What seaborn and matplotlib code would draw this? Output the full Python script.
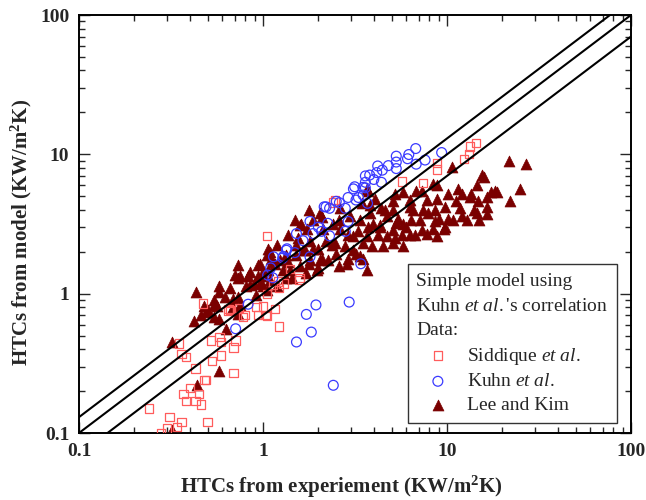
import numpy as np
import pandas as pd
import matplotlib
matplotlib.use("Agg")
import matplotlib.pyplot as plt
import seaborn as sns

# ---------------- data ----------------
sid_x = [0.47, 0.52, 0.58, 0.59, 0.65, 0.71, 0.69, 0.35, 0.36, 0.38, 0.53, 0.59, 0.43, 0.69,
         0.48, 0.49, 0.40, 0.37, 0.38, 0.43, 0.45, 0.46, 0.24, 0.31, 0.36, 0.34, 0.30, 0.28,
         0.50, 0.94, 1.03, 0.80, 0.92, 1.22, 0.65, 0.78, 1.05, 1.13, 1.22, 1.58, 0.66, 0.74,
         1.00, 1.16, 1.21, 1.05, 1.05, 1.40, 1.58, 1.29, 2.46, 2.40, 5.7, 7.4, 8.8, 8.8,
         12.4, 13.2, 13.3, 14.4]
sid_y = [0.85, 0.46, 0.49, 0.45, 0.78, 0.46, 0.41, 0.44, 0.37, 0.35, 0.33, 0.36, 0.29, 0.27,
         0.24, 0.24, 0.21, 0.19, 0.17, 0.17, 0.19, 0.16, 0.15, 0.13, 0.12, 0.11, 0.108, 0.099,
         0.12, 0.70, 0.70, 0.70, 0.80, 0.58, 0.75, 0.68, 0.69, 1.16, 1.10, 1.25, 0.76, 0.79,
         0.81, 0.78, 1.22, 1.00, 2.6, 1.50, 1.30, 1.18, 4.7, 4.5, 6.4, 6.2, 8.7, 7.8,
         9.3, 10.1, 11.4, 12.0]

kuhn_x = [2.94, 1.94, 1.72, 1.83, 1.52, 2.41, 0.83, 0.71, 3.4,
          1.06, 1.13, 1.28, 1.10, 1.14, 1.29, 1.49, 1.35, 1.80, 1.65, 1.52, 1.87, 2.30, 2.00,
          2.25, 1.80, 2.08, 2.80, 2.90, 2.80, 2.50, 2.15, 3.30, 3.15, 3.60, 1.34, 2.30, 2.20,
          2.60,
          6.76, 9.35, 6.2, 5.3, 7.6, 5.3, 4.8, 4.2, 4.45, 6.8, 6.1, 5.3, 4.15, 3.8, 3.6, 4.0,
          4.4, 3.6, 3.1, 2.9, 3.5, 3.5, 3.7, 3.2]
kuhn_y = [0.87, 0.83, 0.71, 0.53, 0.45, 0.22, 0.84, 0.56, 1.64,
          1.36, 1.30, 1.80, 1.53, 1.84, 1.85, 1.97, 2.10, 1.84, 2.40, 2.70, 2.70, 2.60, 3.00,
          3.20, 3.30, 2.80, 2.80, 3.30, 4.10, 4.60, 4.20, 4.90, 5.85, 5.75, 2.05, 4.10, 4.20,
          4.50,
          11.0, 10.3, 9.97, 9.7, 9.1, 8.8, 8.3, 8.25, 7.7, 8.5, 9.3, 7.9, 7.4, 7.1, 7.0, 6.6,
          6.3, 6.3, 5.65, 4.9, 5.1, 5.8, 4.45, 4.7]

lee_x = [0.32, 0.32, 0.44, 0.58, 0.43, 0.42, 0.46, 0.49, 0.54, 0.48, 0.58, 0.63, 0.58, 0.62,
         0.69, 0.73, 0.73, 0.83, 0.94, 0.94, 0.89, 0.81, 0.69, 0.73, 0.66, 0.54, 0.92, 1.05,
         1.19, 1.09, 1.34, 1.40, 1.59, 1.72, 1.97, 2.05, 1.52, 1.23, 1.05,
         0.70, 0.96, 1.07, 0.85, 0.58, 0.54, 0.56, 0.50, 0.73, 0.75, 1.00, 0.98, 1.11, 1.16,
         0.75, 0.85, 0.96, 1.00, 1.07, 1.14, 1.09, 1.19, 1.37, 1.49, 1.60, 1.73, 1.55, 1.80,
         1.69, 2.00, 2.10, 1.77, 1.37, 1.29, 2.08, 2.41, 2.63, 2.63, 2.36, 2.80, 2.50, 3.10,
         3.20, 3.37, 3.43, 2.85, 3.50, 3.66,
         1.59, 2.05, 2.58, 2.97, 3.80, 4.40, 4.70, 5.10, 5.30, 4.30, 3.70, 3.30, 2.90, 4.20,
         4.70, 5.20, 3.50, 3.90, 4.50, 3.10, 3.37, 2.90, 2.58, 2.25, 1.80, 1.87, 1.65, 1.52,
         1.34, 1.44, 2.00, 2.20, 2.45, 2.13, 1.87, 1.77,
         10.6, 15.8, 14.5, 17.4, 11.5, 8.4, 7.3, 10.1, 8.8, 7.8, 6.3, 5.8, 5.1, 4.6, 4.05,
         3.66, 3.8, 6.5, 7.9, 9.8, 11.2, 13.3, 14.7, 14.5, 12.0, 10.1, 8.6, 7.1, 5.8, 5.1,
         4.3, 6.3, 7.8, 9.6, 3.66, 3.97,
         18.6, 16.5, 21.8, 26.8, 25.0, 22.0, 18.3, 16.5, 15.0, 13.5, 12.0, 14.1, 16.5, 12.8,
         10.8, 11.7, 8.8, 8.6, 7.4, 6.3, 5.4, 6.4, 9.0, 9.8, 8.4, 7.3, 6.0, 5.7, 6.7, 8.8,
         5.1, 5.8, 6.8, 5.2, 3.7, 15.5]
lee_y = [0.45, 0.105, 0.22, 0.28, 1.02, 0.64, 0.70, 0.74, 0.83, 0.81, 0.66, 0.56, 1.03, 0.95,
         0.92, 1.60, 1.30, 1.33, 1.60, 1.33, 1.17, 1.13, 0.80, 0.72, 1.10, 0.68, 0.98, 1.06,
         1.13, 1.25, 1.29, 1.48, 1.57, 1.40, 1.47, 1.73, 1.88, 1.73, 1.88,
         1.37, 1.64, 2.10, 1.43, 1.13, 0.90, 0.81, 0.76, 0.95, 0.83, 1.13, 1.33, 1.78, 1.64,
         1.33, 1.16, 1.20, 1.39, 1.47, 1.70, 1.98, 2.24, 2.62, 3.36, 3.18, 2.90, 2.50, 2.40,
         2.05, 2.10, 1.78, 1.64, 1.69, 1.47, 3.56, 3.18, 4.10, 2.90, 2.24, 2.20, 1.94, 2.60,
         1.94, 3.40, 4.45, 1.64, 1.78, 1.47,
         3.10, 3.80, 3.36, 3.60, 3.80, 4.10, 3.60, 3.97, 3.20, 3.10, 3.00, 2.80, 2.62, 2.62,
         2.60, 2.50, 2.30, 2.20, 2.20, 2.05, 1.85, 1.78, 1.57, 1.73, 1.73, 2.10, 2.05, 2.25,
         1.88, 1.29, 1.52, 2.40, 2.30, 2.90, 3.36, 3.97,
         8.1, 6.9, 6.0, 5.35, 5.65, 6.1, 5.5, 5.2, 4.8, 4.7, 4.7, 5.35, 4.6, 3.97, 4.8,
         5.65, 4.3, 3.97, 3.8, 4.2, 4.6, 4.9, 4.6, 3.8, 3.6, 3.45, 3.3, 3.36, 3.18, 2.85,
         3.0, 2.62, 2.7, 2.9, 2.6, 3.18,
         5.35, 4.9, 9.0, 8.5, 5.65, 4.6, 5.5, 3.7, 3.4, 5.2, 5.2, 3.97, 4.2, 3.36,
         3.36, 4.1, 6.0, 3.97, 3.97, 4.2, 3.45, 3.36, 3.45, 3.0, 2.9, 2.85, 3.0, 2.62, 2.62, 2.6,
         2.3, 2.2, 5.5, 5.2, 5.5, 7.1]

ratio_lines = [1.3, 1.0, 0.7]
line_x = [0.1, 100.0]

tick_vals = [0.1, 1, 10, 100]
tick_labels = ["0.1", "1", "10", "100"]

# ---------------- style ----------------
sns.set_style("ticks")
plt.rcParams["font.family"] = ["Liberation Serif", "DejaVu Serif"]
plt.rcParams["mathtext.fontset"] = "custom"
plt.rcParams["mathtext.rm"] = "Liberation Serif"
plt.rcParams["mathtext.it"] = "Liberation Serif:italic"
plt.rcParams["mathtext.bf"] = "Liberation Serif:bold"

fig = plt.figure(figsize=(6.46, 5.0), dpi=100)
ax = fig.add_axes([0.1223, 0.134, 0.8545, 0.836])

df_s = pd.DataFrame({"x": sid_x, "y": sid_y})
df_k = pd.DataFrame({"x": kuhn_x, "y": kuhn_y})
df_l = pd.DataFrame({"x": lee_x, "y": lee_y})

c_sid = "#ff5c5c"
c_kuhn = "#3a3aff"
c_lee = "#7a0000"

sns.scatterplot(data=df_l, x="x", y="y", ax=ax, marker="^", s=62, color=c_lee,
                edgecolor=c_lee, linewidth=0.5, zorder=2,
                label="Lee and Kim")
sns.scatterplot(data=df_s, x="x", y="y", ax=ax, marker="s", s=36, color=c_sid,
                facecolor="none", edgecolor=c_sid, linewidth=0.9, zorder=3,
                label="Siddique $\\mathit{et\\ al.}$")
sns.scatterplot(data=df_k, x="x", y="y", ax=ax, marker="o", s=50, color=c_kuhn,
                facecolor="none", edgecolor=c_kuhn, linewidth=0.9, zorder=3,
                label="Kuhn $\\mathit{et\\ al.}$")

for r in ratio_lines:
    ax.plot(line_x, [v * r for v in line_x], color="black", lw=1.5, zorder=4)

ax.set_xscale("log")
ax.set_yscale("log")
ax.set_xlim(0.1, 100)
ax.set_ylim(0.1, 100)
ax.set_xticks(tick_vals)
ax.set_xticklabels(tick_labels)
ax.set_yticks(tick_vals)
ax.set_yticklabels(tick_labels)

ax.tick_params(which="both", direction="in", top=True, right=True)
ax.tick_params(which="major", length=8, width=1.0, pad=7, labelsize=14)
ax.tick_params(which="minor", length=4.5, width=1.0)
for lab in ax.get_xticklabels() + ax.get_yticklabels():
    lab.set_fontweight("bold")
for sp in ax.spines.values():
    sp.set_linewidth(1.4)
    sp.set_color("black")

ax.set_xlabel("HTCs from experiement (KW/m$^{\\mathbf{2}}$K)", fontsize=15,
              fontweight="bold", labelpad=10)
ax.set_ylabel("HTCs from model (KW/m$^{\\mathbf{2}}$K)", fontsize=15,
              fontweight="bold", labelpad=4)
ax.xaxis.label.set_x(0.476)
ax.yaxis.label.set_y(0.48)

# legend (reorder to Siddique, Kuhn, Lee)
handles, labels = ax.get_legend_handles_labels()
order = [labels.index(l) for l in ["Siddique $\\mathit{et\\ al.}$",
                                   "Kuhn $\\mathit{et\\ al.}$", "Lee and Kim"]]
leg = ax.legend([handles[i] for i in order], [labels[i] for i in order],
                title="Simple model using\nKuhn $\\mathit{et\\ al.}$'s correlation\nData:",
                loc="lower right", bbox_to_anchor=(0.975, 0.024), borderaxespad=0,
                fontsize=14, title_fontsize=14, alignment="left",
                frameon=True, fancybox=False, edgecolor="#333333", framealpha=1,
                handlelength=2.2, handletextpad=0.4, labelspacing=0.32,
                borderpad=0.45)
leg.get_frame().set_linewidth(1.0)
leg.get_title().set_linespacing(1.6)
leg.set_zorder(10)

fig.savefig("out.png", dpi=100)
